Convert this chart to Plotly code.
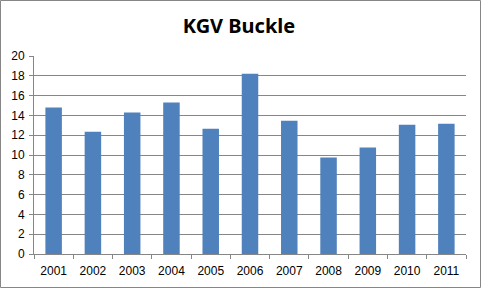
import plotly.graph_objects as go

years = ["2001", "2002", "2003", "2004", "2005", "2006", "2007", "2008", "2009", "2010", "2011"]
values = [14.8, 12.35, 14.3, 15.3, 12.65, 18.2, 13.45, 9.75, 10.75, 13.05, 13.15]
y_ticks = [0, 2, 4, 6, 8, 10, 12, 14, 16, 18, 20]

W, H = 484, 292
L, R, T, B = 34, 18, 56, 38

fig = go.Figure(go.Bar(x=years, y=values, marker=dict(color="#4F81BD", line=dict(width=0)),
                       width=0.42))

pw = W - L - R
ph = H - T - B
def px(x):
    return (x - L) / pw
def py(y):
    return (H - B - y) / ph

fig.add_shape(type="rect", xref="paper", yref="paper",
              x0=px(0.5), x1=px(480.5), y0=py(287.5), y1=py(0.5),
              line=dict(color="#868686", width=1), fillcolor="rgba(0,0,0,0)", layer="above")

fig.update_layout(
    width=W, height=H,
    margin=dict(l=L, r=R, t=T, b=B),
    paper_bgcolor="white", plot_bgcolor="white",
    title=dict(text="<b>KGV Buckle</b>", x=239 / W, xref="container", xanchor="center",
               y=1 - 26 / H, yanchor="middle",
               font=dict(family="Noto Sans", size=20, color="#000000")),
    showlegend=False,
    font=dict(family="Liberation Sans", size=12, color="#000000"),
)
fig.update_xaxes(type="category", showline=True, linecolor="#868686", linewidth=1,
                 ticks="outside", tickson="boundaries", ticklen=4, tickcolor="#868686",
                 showgrid=False, tickfont=dict(size=12), ticklabelstandoff=6, fixedrange=True)
fig.update_yaxes(range=[0, 20], tickvals=y_ticks, showline=True, linecolor="#868686", linewidth=1,
                 ticks="outside", ticklen=4, tickcolor="#868686",
                 showgrid=True, gridcolor="#868686", gridwidth=1, zeroline=False,
                 tickfont=dict(size=12), ticklabelstandoff=2, fixedrange=True)

fig.write_html("out.html", config={"displayModeBar": False})
